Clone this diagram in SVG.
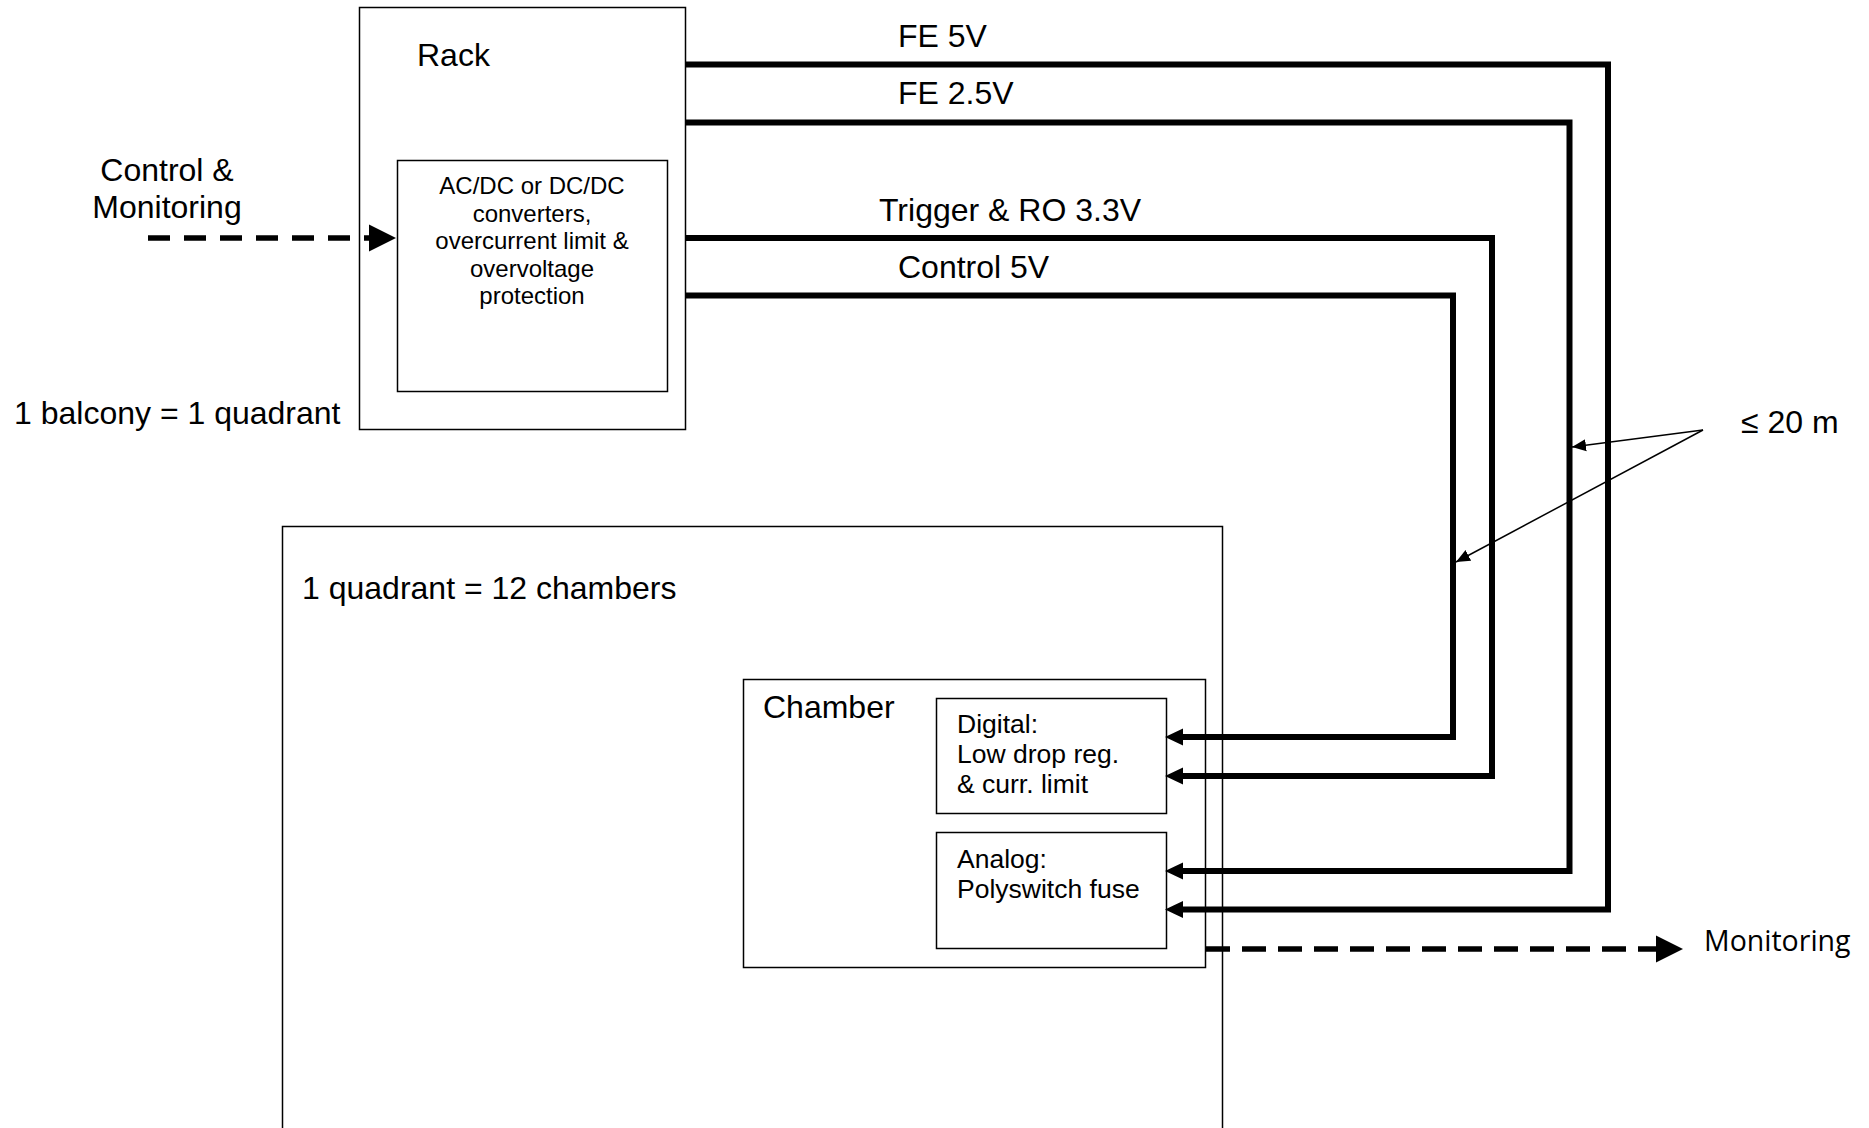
<svg xmlns="http://www.w3.org/2000/svg" width="1869" height="1128" viewBox="0 0 1869 1128">
<style>
text{font-family:"Liberation Sans",Arial,sans-serif;fill:#000}
.lg{font-size:32px}
.sm{font-size:24px}
.md{font-size:26.5px}
.box{fill:none;stroke:#000;stroke-width:1.5}
.pw{fill:none;stroke:#000;stroke-width:6;stroke-linejoin:miter}
.dash{fill:none;stroke:#000;stroke-width:5.5;stroke-dasharray:22 14}
.thin{fill:none;stroke:#000;stroke-width:1.5}
</style>
<defs>
<marker id="aThick" markerUnits="userSpaceOnUse" orient="auto" markerWidth="22" markerHeight="20" viewBox="0 -10 22 20" refX="8" refY="0"><path d="M0,-8.5 L18,0 L0,8.5 z" fill="#000"/></marker>
<marker id="aDash" markerUnits="userSpaceOnUse" orient="auto" markerWidth="30" markerHeight="30" viewBox="0 -15 30 30" refX="2" refY="0"><path d="M0,-13.5 L27,0 L0,13.5 z" fill="#000"/></marker>
<marker id="aThin" markerUnits="userSpaceOnUse" orient="auto" markerWidth="16" markerHeight="14" viewBox="0 -7 16 14" refX="14" refY="0"><path d="M0,-6 L14,0 L0,6 z" fill="#000"/></marker>
</defs>
<rect width="1869" height="1128" fill="#fff"/>

<g id="rack">
<rect class="box" x="359.5" y="7.5" width="326" height="422"/>
<text class="lg" x="417" y="66">Rack</text>
</g>
<g id="converters">
<rect class="box" x="397.5" y="160.5" width="270" height="231"/>
<text class="sm" text-anchor="middle"><tspan x="532" y="194">AC/DC or DC/DC</tspan><tspan x="532" y="221.5">converters,</tspan><tspan x="532" y="249">overcurrent limit &amp;</tspan><tspan x="532" y="276.5">overvoltage</tspan><tspan x="532" y="304">protection</tspan></text>
</g>
<g id="balcony-label">
<text class="lg" x="14" y="424">1 balcony = 1 quadrant</text>
</g>
<g id="control-monitoring">
<text class="lg" text-anchor="middle"><tspan x="167" y="181">Control &amp;</tspan><tspan x="167" y="218">Monitoring</tspan></text>
</g>
<g id="quadrant">
<rect class="box" x="282.5" y="526.5" width="940" height="640"/>
<text class="lg" x="302" y="599">1 quadrant = 12 chambers</text>
</g>
<g id="chamber">
<rect class="box" x="743.5" y="679.5" width="462" height="288"/>
<text class="lg" x="763" y="718">Chamber</text>
</g>
<g id="digital">
<rect class="box" x="936.5" y="698.5" width="230" height="115"/>
<text class="md"><tspan x="957" y="733">Digital:</tspan><tspan x="957" y="763">Low drop reg.</tspan><tspan x="957" y="793">&amp; curr. limit</tspan></text>
</g>
<g id="analog">
<rect class="box" x="936.5" y="832.5" width="230" height="116"/>
<text class="md"><tspan x="957" y="868">Analog:</tspan><tspan x="957" y="898">Polyswitch fuse</tspan></text>
</g>
<g id="monitoring">
<text x="1704" y="951" style="font-family:'Open Sans','Noto Sans',sans-serif;font-size:28.5px">Monitoring</text>
</g>
<g id="length-label">
<text class="lg" x="1741" y="433">≤ 20 m</text>
</g>

<g id="connectors">
<polyline class="pw" points="685,64.5 1608,64.5 1608,909.5 1175,909.5" marker-end="url(#aThick)"/>
<polyline class="pw" points="685,122.5 1569.5,122.5 1569.5,871 1175,871" marker-end="url(#aThick)"/>
<polyline class="pw" points="685,238 1492,238 1492,776 1175,776" marker-end="url(#aThick)"/>
<polyline class="pw" points="685,295.5 1453,295.5 1453,737 1175,737" marker-end="url(#aThick)"/>
<line class="dash" x1="148" y1="238" x2="371" y2="238" marker-end="url(#aDash)"/>
<line class="dash" x1="1206" y1="949" x2="1658" y2="949" style="stroke-dasharray:24 12" marker-end="url(#aDash)"/>
<line class="thin" x1="1703" y1="430" x2="1572" y2="447" marker-end="url(#aThin)"/>
<line class="thin" x1="1703" y1="430" x2="1456" y2="562" marker-end="url(#aThin)"/>
<text class="lg" x="898" y="47">FE 5V</text>
<text class="lg" x="898" y="104">FE 2.5V</text>
<text class="lg" x="879" y="221">Trigger &amp; RO 3.3V</text>
<text class="lg" x="898" y="278">Control 5V</text>
</g>
</svg>
